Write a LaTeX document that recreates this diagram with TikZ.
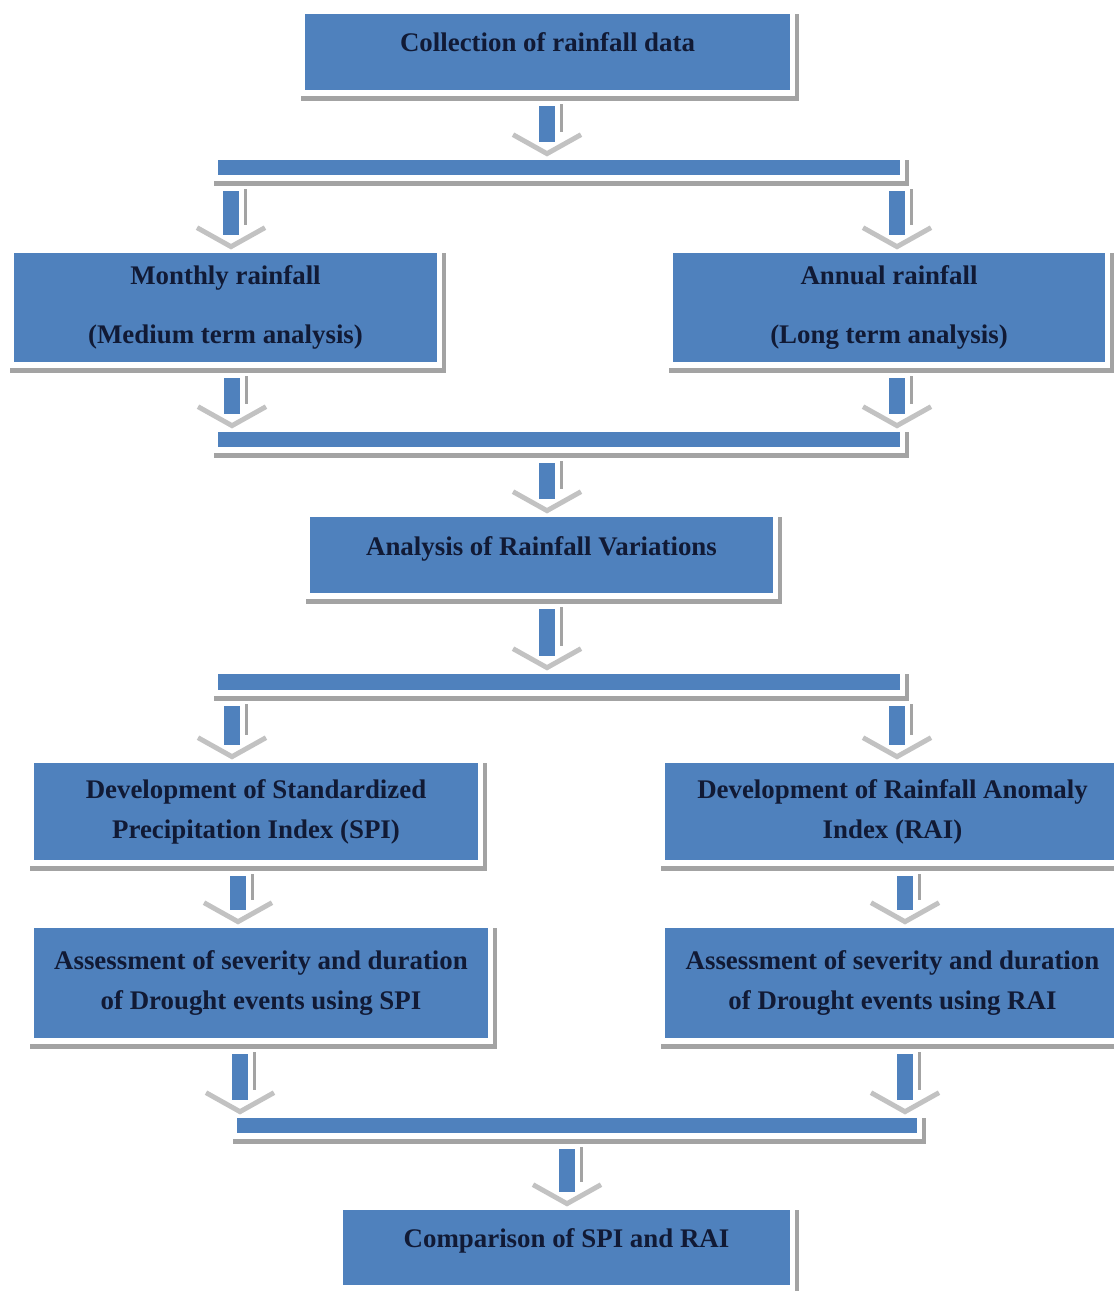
\documentclass[tikz,border=0pt]{standalone}
\usepackage{fontspec}
\setmainfont{Liberation Serif}
\usetikzlibrary{calc,backgrounds}
\definecolor{boxblue}{HTML}{4F81BD}
\definecolor{shadegray}{HTML}{A3A3A3}
\definecolor{chevgray}{HTML}{C2C2C2}
\definecolor{navytext}{HTML}{111A35}
\tikzset{
  flowbox/.style={fill=boxblue, draw=none, inner sep=0pt, text=navytext, align=center,
    font=\bfseries\fontsize{15.3}{22.7}\selectfont},
  oneline/.style={text height=8pt, text depth=8pt},
  flowbar/.style={fill=boxblue, draw=none, inner sep=0pt, minimum height=0.30cm},
  chevron/.style={chevgray, line width=2.8pt, line join=miter, line cap=butt},
}
\newcommand\boxshadow[1]{%
  \fill[shadegray] ($(#1.north west)+(-4,0)$) rectangle ($(#1.south east)+(9,11)$);
  \fill[white] ($(#1.north west)+(-5,-5)$) rectangle ($(#1.south east)+(5,6)$);
}
\newcommand\flowarrow[3]{%
  \coordinate (fa-a) at (#3,0 |- #1.south);
  \coordinate (fa-b) at (#3,0 |- #2.north);
  \coordinate (fa-s) at ($(fa-a)+(0,16)$);
  \coordinate (fa-t) at ($(fa-b)+(0,-6)$);
  \fill[shadegray] ($(fa-s)+(13,-2)$) rectangle ($(fa-t)+(16,-22)$);
  \draw[chevron] ($(fa-t)+(-34,-19)$) -- (fa-t) -- ($(fa-t)+(34,-19)$);
  \fill[boxblue] ($(fa-s)+(-8,0)$) rectangle ($(fa-t)+(8,-12)$);
}
\begin{document}
\begin{tikzpicture}[x=0.02cm, y=-0.02cm]
\useasboundingbox (0,0) rectangle (1114,1291);

\node[flowbox, oneline, minimum width=9.70cm, minimum height=1.52cm] (coll) at (547.5,52) {Collection of rainfall data};
\node[flowbar, minimum width=13.64cm] (bar1) at (559,167.5) {};
\node[flowbox, minimum width=8.46cm, minimum height=2.18cm] (monthly) at (225.5,307.5) {Monthly rainfall\\[11.3pt](Medium term analysis)};
\node[flowbox, minimum width=8.64cm, minimum height=2.18cm] (annual) at (889,307.5) {Annual rainfall\\[11.3pt](Long term analysis)};
\node[flowbar, minimum width=13.64cm] (bar2) at (559,439.5) {};
\node[flowbox, oneline, minimum width=9.26cm, minimum height=1.52cm] (analysis) at (541.5,555) {Analysis of Rainfall Variations};
\node[flowbar, minimum width=13.64cm, minimum height=0.32cm] (bar3) at (559,682) {};
\node[flowbox, minimum width=8.88cm, minimum height=1.94cm] (devspi) at (256,811.5) {Development of Standardized\\Precipitation Index (SPI)};
\node[flowbox, minimum width=9.10cm, minimum height=1.94cm] (devrai) at (892.5,811.5) {Development of Rainfall Anomaly\\Index (RAI)};
\node[flowbox, minimum width=9.08cm, minimum height=2.20cm] (assspi) at (261,983) {Assessment of severity and duration\\of Drought events using SPI};
\node[flowbox, minimum width=9.10cm, minimum height=2.20cm] (assrai) at (892.5,983) {Assessment of severity and duration\\of Drought events using RAI};
\node[flowbar, minimum width=13.60cm] (bar4) at (577,1125.5) {};
\node[flowbox, oneline, minimum width=8.94cm, minimum height=1.50cm] (comp) at (566.5,1247.5) {Comparison of SPI and RAI};

\begin{scope}[on background layer]
  \foreach \n in {coll,bar1,monthly,annual,bar2,analysis,bar3,devspi,devrai,assspi,assrai,bar4,comp}{\boxshadow{\n}}
\end{scope}

\flowarrow{coll}{bar1}{547}
\flowarrow{bar1}{monthly}{231}
\flowarrow{bar1}{annual}{897}
\flowarrow{monthly}{bar2}{232}
\flowarrow{annual}{bar2}{897}
\flowarrow{bar2}{analysis}{547}
\flowarrow{analysis}{bar3}{547}
\flowarrow{bar3}{devspi}{232}
\flowarrow{bar3}{devrai}{897}
\flowarrow{devspi}{assspi}{238}
\flowarrow{devrai}{assrai}{905}
\flowarrow{assspi}{bar4}{240}
\flowarrow{assrai}{bar4}{905}
\flowarrow{bar4}{comp}{567}
\end{tikzpicture}
\end{document}
